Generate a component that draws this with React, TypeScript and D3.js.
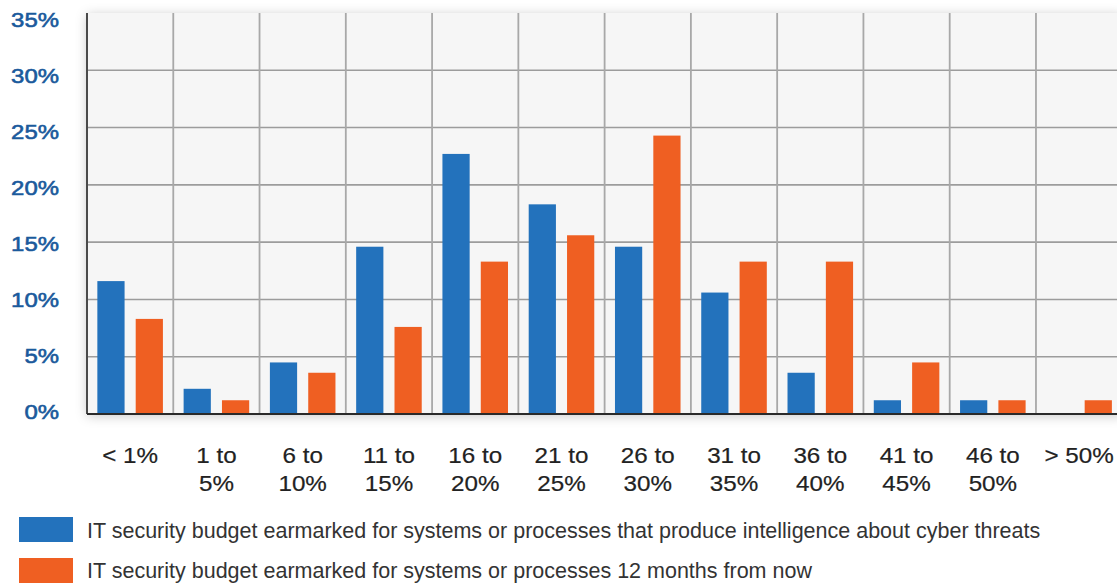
import React from "react";
import * as d3 from "d3";

const categories: string[][] = [
  ["< 1%"],
  ["1 to", "5%"],
  ["6 to", "10%"],
  ["11 to", "15%"],
  ["16 to", "20%"],
  ["21 to", "25%"],
  ["26 to", "30%"],
  ["31 to", "35%"],
  ["36 to", "40%"],
  ["41 to", "45%"],
  ["46 to", "50%"],
  ["> 50%"],
];
const seriesNow: number[] = [11.6, 2.2, 4.5, 14.6, 22.7, 18.3, 14.6, 10.6, 3.6, 1.2, 1.2, 0];
const seriesFuture: number[] = [8.3, 1.2, 3.6, 7.6, 13.3, 15.6, 24.3, 13.3, 13.3, 4.5, 1.2, 1.2];
const yTicks: number[] = [0, 5, 10, 15, 20, 25, 30, 35];
const seriesNames: string[] = [
  "IT security budget earmarked for systems or processes that produce intelligence about cyber threats",
  "IT security budget earmarked for systems or processes 12 months from now",
];
const seriesColors: string[] = ["#2372BC", "#EF5F22"];

const W = 1117;
const H = 583;
const plotLeft = 87;
const plotRight = 87 + 12 * 86.27;
const plotTop = 13;
const plotBottom = 414;

export default function App() {
  const keys = categories.map((c) => c.join(" "));
  const x = d3.scaleBand<string>().domain(keys).range([plotLeft, plotRight]).padding(0);
  const xi = d3
    .scaleBand<string>()
    .domain(["now", "future"])
    .range([0, x.bandwidth()])
    .paddingInner(0.29)
    .paddingOuter(0.27);
  const y = d3.scaleLinear().domain([0, 35]).range([plotBottom, plotTop]);
  const yLab = d3.scaleLinear().domain([0, 35]).range([411.6, 19]);
  const font = "'Liberation Sans', Arial, Helvetica, sans-serif";

  return (
    <svg
      width={W}
      height={H}
      style={{ position: "absolute", left: 0, top: 0, background: "#fff" }}
    >
      <defs>
        <filter id="shadow" x="-5%" y="-10%" width="110%" height="120%">
          <feDropShadow dx="0" dy="2" stdDeviation="6" floodColor="#000" floodOpacity="0.22" />
        </filter>
      </defs>
      <rect
        x={plotLeft}
        y={plotTop}
        width={plotRight - plotLeft}
        height={plotBottom - plotTop}
        fill="#f6f6f6"
        filter="url(#shadow)"
      />
      {yTicks
        .filter((t) => t > 0 && t < 35)
        .map((t) => (
          <line
            key={"h" + t}
            x1={plotLeft}
            x2={plotRight}
            y1={y(t)}
            y2={y(t)}
            stroke="#9c9c9c"
            strokeWidth={1.6}
          />
        ))}
      {keys.slice(1).map((k) => (
        <line
          key={"v" + k}
          x1={x(k)}
          x2={x(k)}
          y1={plotTop}
          y2={plotBottom}
          stroke="#a8a8a8"
          strokeWidth={1.8}
        />
      ))}
      {keys.map((k, i) => (
        <g key={"b" + k}>
          {seriesNow[i] > 0 && (
            <rect
              x={(x(k) as number) + (xi("now") as number)}
              y={y(seriesNow[i])}
              width={xi.bandwidth()}
              height={plotBottom + 1 - y(seriesNow[i])}
              fill={seriesColors[0]}
            />
          )}
          {seriesFuture[i] > 0 && (
            <rect
              x={(x(k) as number) + (xi("future") as number)}
              y={y(seriesFuture[i])}
              width={xi.bandwidth()}
              height={plotBottom + 1 - y(seriesFuture[i])}
              fill={seriesColors[1]}
            />
          )}
        </g>
      ))}
      <line x1={plotLeft} x2={plotLeft} y1={plotTop} y2={plotBottom} stroke="#4a4a4a" strokeWidth={2} />
      <line x1={plotLeft} x2={plotRight} y1={plotBottom} y2={plotBottom} stroke="#2a2a2a" strokeWidth={2} />
      {yTicks.map((t) => (
        <text
          key={"yl" + t}
          transform={`translate(59,${yLab(t) + 7.5}) scale(1.14,1)`}
          textAnchor="end"
          fontFamily={font}
          fontSize={21}
          fill="#1b5a9c"
          stroke="#1b5a9c"
          strokeWidth={0.6}
        >
          {t}%
        </text>
      ))}
      {keys.map((k, i) => {
        const cx = (x(k) as number) + x.bandwidth() / 2;
        return (
          <text
            key={"xl" + k}
            transform={`translate(${cx},463.3) scale(1.1,1)`}
            textAnchor="middle"
            fontFamily={font}
            fontSize={22}
            fill="#222"
            stroke="#222"
            strokeWidth={0.2}
          >
            {categories[i].map((line, j) => (
              <tspan key={j} x={0} y={j * 28}>
                {line}
              </tspan>
            ))}
          </text>
        );
      })}
      {seriesNames.map((name, i) => (
        <g key={"lg" + i}>
          <rect x={19} y={517 + i * 41} width={54} height={25} fill={seriesColors[i]} />
          <text x={87} y={537.7 + i * 40.6} fontFamily={font} fontSize={21.5} fill="#333">
            {name}
          </text>
        </g>
      ))}
    </svg>
  );
}
